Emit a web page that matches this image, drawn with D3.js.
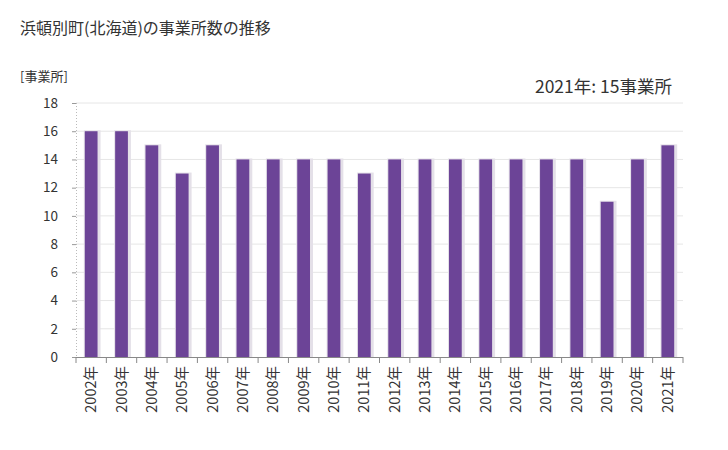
<!DOCTYPE html>
<html><head><meta charset="utf-8">
<script src="https://cdnjs.cloudflare.com/ajax/libs/d3/7.8.5/d3.min.js"></script>
<style>body{margin:0;background:#fff;} text{font-family:"Noto Sans CJK JP","Noto Sans",sans-serif;}</style>
</head><body><svg id="c" width="728" height="450"></svg>
<script>
const years = ["2002年","2003年","2004年","2005年","2006年","2007年","2008年","2009年","2010年","2011年","2012年","2013年","2014年","2015年","2016年","2017年","2018年","2019年","2020年","2021年"];
const values = [16,16,15,13,15,14,14,14,14,13,14,14,14,14,14,14,14,11,14,15];
const yTicks = [0,2,4,6,8,10,12,14,16,18];
const title = "浜頓別町(北海道)の事業所数の推移";
const unit = "[事業所]";
const note = "2021年: 15事業所";

const svg = d3.select("#c");
const m = {l:76, r:683, t:103, b:357};
const x = d3.scaleBand().domain(years).range([m.l, m.r]).paddingInner(0.58).paddingOuter(0.29);
const xb = d3.scaleBand().domain(years).range([m.l, m.r]);
const y = d3.scaleLinear().domain([0,18]).range([m.b, m.t]);

// grid
svg.append("g").selectAll("line").data(yTicks.filter(d=>d>0)).join("line")
  .attr("x1", m.l).attr("x2", m.r).attr("y1", d=>y(d)).attr("y2", d=>y(d))
  .attr("stroke", "#e6e6e6").attr("stroke-width", 1);
// left dotted axis line
svg.append("line").attr("x1", m.l+0.5).attr("x2", m.l+0.5).attr("y1", m.t).attr("y2", m.b)
  .attr("stroke", "#bbb").attr("stroke-dasharray", "1,2");

// y axis
const ya = d3.axisLeft(y).tickValues(yTicks).tickSize(4).tickPadding(14);
const gy = svg.append("g").attr("transform", `translate(${m.l},0)`).call(ya);
gy.select(".domain").remove();
gy.selectAll("line").attr("stroke", "#999");
gy.selectAll("text").attr("font-size", 13.5).attr("fill", "#333");

// bar shadows
svg.append("g").selectAll("rect").data(values).join("rect")
  .attr("x", (d,i)=>x(years[i])-1).attr("y", d=>y(d)-1)
  .attr("width", x.bandwidth()+4).attr("height", d=>m.b-y(d)+1)
  .attr("fill", "#e4e0e8");
// bars
svg.append("g").selectAll("rect").data(values).join("rect")
  .attr("x", (d,i)=>x(years[i])).attr("y", d=>y(d))
  .attr("width", x.bandwidth()).attr("height", d=>m.b-y(d))
  .attr("fill", "#6c4497");

// x axis
svg.append("line").attr("x1", m.l).attr("x2", m.r).attr("y1", m.b+0.5).attr("y2", m.b+0.5).attr("stroke", "#888");
svg.append("g").selectAll("line").data(d3.range(years.length+1)).join("line")
  .attr("x1", i=>m.l + i*xb.step()).attr("x2", i=>m.l + i*xb.step())
  .attr("y1", m.b).attr("y2", m.b+6).attr("stroke", "#888");
svg.append("g").selectAll("text").data(years).join("text")
  .attr("transform", d=>`translate(${xb(d)+xb.bandwidth()/2+5},${m.b+9}) rotate(-90)`)
  .attr("text-anchor", "end").attr("font-size", 14.5).attr("fill", "#333").text(d=>d);

svg.append("text").attr("x", 20).attr("y", 34).attr("font-size", 16).attr("fill", "#333").text(title);
svg.append("text").attr("x", 20).attr("y", 81).attr("font-size", 13).attr("fill", "#333").text(unit);
svg.append("text").attr("x", 672).attr("y", 93).attr("text-anchor", "end").attr("font-size", 17.5).attr("fill", "#333").text(note);
</script></body></html>
